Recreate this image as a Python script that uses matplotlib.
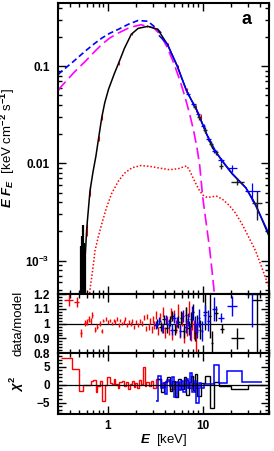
import numpy as np
import matplotlib
matplotlib.use("Agg")
import matplotlib.pyplot as plt
from matplotlib.ticker import FixedLocator, FuncFormatter, MultipleLocator, LogLocator, NullFormatter

plt.rcParams['font.family'] = ['Liberation Sans', 'DejaVu Sans']
plt.rcParams['font.weight'] = 'bold'
plt.rcParams['font.size'] = 9.5
plt.rcParams['mathtext.fontset'] = 'custom'
plt.rcParams['mathtext.rm'] = 'Liberation Sans:bold'
plt.rcParams['mathtext.it'] = 'Liberation Sans:italic:bold'
plt.rcParams['mathtext.bf'] = 'Liberation Sans:bold'

# ---- model curves (top panel) ----
e_total = [0.54, 0.565, 0.6, 0.65, 0.7, 0.75, 0.8, 0.867, 0.93, 1.02, 1.18, 1.3, 1.5, 1.77,
           2.09, 2.64, 3.35, 4.25, 5.4, 6.8, 8.7, 11.0, 12.7, 13.9, 17.0, 20.4, 28.5, 36.0,
           51.0]
f_total = [4.0e-4, 6.8e-4, 0.0021, 0.0052, 0.0082, 0.0118, 0.018, 0.030, 0.042, 0.058,
           0.085, 0.107, 0.153, 0.213, 0.245, 0.257, 0.24, 0.168, 0.10, 0.055, 0.035, 0.020,
           0.0144, 0.0129, 0.0098, 0.0078, 0.0056, 0.0038, 0.0017]

e_unabs = [0.3, 0.32, 0.45, 0.58, 0.72, 0.87, 1.05, 1.3, 1.65, 2.08, 2.64, 3.35, 3.8]
f_unabs = [0.082, 0.087, 0.115, 0.143, 0.17, 0.195, 0.218, 0.24, 0.27, 0.295, 0.29, 0.24, 0.21]

e_pl = [3.5, 4.25, 5.4, 6.8, 8.7, 11.0, 13.9, 17.0, 20.4, 28.5, 36.0, 51.0]
f_pl = [0.205, 0.168, 0.10, 0.055, 0.035, 0.020, 0.0129, 0.0099, 0.0079, 0.0056, 0.0037, 0.0018]

e_disk = [0.3, 0.32, 0.45, 0.58, 0.72, 0.87, 1.05, 1.3, 1.7, 2.24, 3.05, 3.6, 4.25, 5.0,
          5.8, 6.6, 7.3, 8.0, 8.7, 9.3, 10.0, 10.9, 11.8, 12.6, 13.3]
f_disk = [0.056, 0.061, 0.088, 0.112, 0.14, 0.168, 0.195, 0.22, 0.25, 0.267, 0.248, 0.21,
          0.155, 0.105, 0.07, 0.046, 0.032, 0.022, 0.0145, 0.0095, 0.0045, 0.0024, 0.00135,
          0.00075, 0.00045]

e_line = [0.645, 0.66, 0.7, 0.734, 0.8, 0.867, 0.97, 1.1, 1.3, 1.5, 1.8, 2.24, 2.8, 3.6,
          4.5, 5.5, 6.3, 6.8, 7.3, 7.9, 8.6, 9.3, 10.1, 10.9, 12.0, 13.9, 16.0, 19.0, 22.0,
          25.8, 30.0, 36.0, 41.0, 45.5, 51.0]
f_line = [4.6e-4, 5.6e-4, 8.5e-4, 1.26e-3, 1.8e-3, 2.4e-3, 3.5e-3, 4.9e-3, 6.6e-3, 7.9e-3,
          9.0e-3, 9.5e-3, 9.3e-3, 8.9e-3, 8.6e-3, 8.8e-3, 9.2e-3, 9.4e-3, 8.4e-3, 7.1e-3,
          6.0e-3, 5.2e-3, 4.7e-3, 4.5e-3, 4.5e-3, 4.6e-3, 4.3e-3, 3.7e-3, 3.1e-3, 2.4e-3,
          1.8e-3, 1.26e-3, 9.0e-4, 6.8e-4, 5.0e-4]

# ---- spectral data points (top panel) ----
e_red_top = [0.6, 0.65, 0.8, 0.87, 1.3, 1.8, 2.6, 4.3, 5.5, 6.9, 8.5, 9.5]
f_red_top = [0.0021, 0.0052, 0.018, 0.030, 0.107, 0.215, 0.26, 0.17, 0.098, 0.056, 0.037, 0.029]
ferr_red_top = [0.0003, 0.0006, 0.001, 0.002, 0.004, 0.006, 0.006, 0.005, 0.004, 0.003, 0.003, 0.003]

e_blk_low = [0.525, 0.54, 0.552, 0.565, 0.578]
f_blk_low = [0.0012, 0.0016, 0.0021, 0.0013, 0.0009]
flo_blk_low = [0.0011, 0.0015, 0.00205, 0.0012, 0.00085]
fhi_blk_low = [0.0002, 0.0002, 0.0002, 0.0002, 0.0002]

e_blk_top = [8.3, 9.2, 10.5, 12.2, 13.9, 15.5, 23.0, 37.0]
f_blk_top = [0.038, 0.030, 0.022, 0.016, 0.0130, 0.0095, 0.0065, 0.0039]
exl_blk_top = [0.3, 0.4, 0.5, 0.6, 0.7, 0.8, 3.0, 4.0]
exh_blk_top = [0.3, 0.4, 0.5, 0.6, 0.7, 0.8, 4.0, 5.0]
ferr_blk_top = [0.002, 0.002, 0.0015, 0.001, 0.0008, 0.0007, 0.0005, 0.0013]

e_blu_top = [7.0, 8.0, 9.0, 10.2, 11.5, 13.3, 15.6, 20.3, 33.0]
f_blu_top = [0.052, 0.041, 0.032, 0.024, 0.018, 0.0135, 0.0108, 0.0089, 0.0052]
exl_blu_top = [0.3, 0.4, 0.4, 0.5, 0.6, 0.7, 1.2, 2.3, 5.0]
exh_blu_top = [0.3, 0.4, 0.4, 0.5, 0.6, 0.7, 1.2, 2.7, 7.0]
ferr_blu_top = [0.002, 0.002, 0.0015, 0.0012, 0.001, 0.0008, 0.0006, 0.0008, 0.0011]

# ---- data/model ratio ----
e_red_lo = [0.39, 0.47, 0.52, 0.575, 0.60, 0.63, 0.66, 0.69, 0.74, 0.78, 0.82, 0.86, 0.90]
r_red_lo = [1.163, 1.145, 0.937, 1.005, 1.01, 1.03, 1.02, 1.06, 0.96, 0.98, 1.0, 0.95, 1.02]
rerr_red_lo = [0.04, 0.035, 0.03, 0.02, 0.02, 0.02, 0.02, 0.02, 0.015, 0.015, 0.015, 0.015, 0.012]
exl_red_lo = [0.04, 0.025, 0.012, 0.01, 0.01, 0.01, 0.01, 0.01, 0.01, 0.01, 0.01, 0.01, 0.01]
exh_red_lo = [0.04, 0.025, 0.012, 0.01, 0.01, 0.01, 0.01, 0.01, 0.01, 0.01, 0.01, 0.01, 0.01]

e_red_r = [0.95, 1.0, 1.05, 1.1, 1.15, 1.2, 1.25, 1.3, 1.35, 1.4, 1.47, 1.53, 1.6, 1.67,
           1.75, 1.82, 1.9, 2.0, 2.1, 2.2, 2.3, 2.4, 2.5, 2.6, 2.7, 2.8, 2.9, 3.0, 3.1,
           3.25, 3.4, 3.55, 3.7, 3.85, 4.0, 4.2, 4.4, 4.6, 4.8, 5.0, 5.25, 5.5, 5.75, 6.0,
           6.3, 6.6, 6.9, 7.2, 7.5, 7.8, 8.1, 8.5]
r_red = [1.03, 1.01, 1.02, 1.0, 1.02, 1.01, 1.03, 0.99, 1.02, 1.0, 1.01, 1.03, 0.99, 1.01,
         1.0, 1.02, 0.98, 1.01, 0.99, 1.02, 1.0, 1.04, 0.97, 1.05, 0.98, 1.02, 0.96, 1.03,
         0.99, 1.06, 0.95, 1.04, 0.97, 1.08, 0.94, 1.02, 0.96, 1.07, 0.93, 1.05, 0.98, 1.09,
         0.95, 1.03, 0.92, 1.06, 0.97, 1.10, 0.94, 1.02, 0.96, 0.90]
rerr_red = [0.012, 0.012, 0.012, 0.012, 0.012, 0.012, 0.012, 0.012, 0.012, 0.012,
            0.012, 0.012, 0.012, 0.012, 0.013, 0.013, 0.013, 0.014, 0.014, 0.015, 0.015,
            0.016, 0.017, 0.018, 0.02, 0.02, 0.022, 0.024, 0.025, 0.027, 0.028, 0.03, 0.03,
            0.032, 0.034, 0.035, 0.036, 0.038, 0.04, 0.04, 0.042, 0.044, 0.045, 0.046, 0.048,
            0.05, 0.052, 0.055, 0.057, 0.06, 0.065, 0.1]

e_blk_r = [3.3, 3.6, 3.9, 4.2, 4.5, 4.8, 5.1, 5.5, 5.9, 6.3, 6.7, 7.1, 7.5, 7.9, 8.3,
           8.8, 9.3, 10.5, 11.8, 12.5, 13.9, 16.0, 23.0, 37.0]
r_blk = [1.0, 0.98, 1.03, 0.97, 1.02, 1.05, 0.96, 1.01, 1.04, 0.95, 1.06, 0.97, 1.03, 1.08,
         0.94, 1.0, 0.96, 1.08, 1.05, 0.87, 1.07, 0.966, 0.90, 1.16]
rerr_blk = [0.03, 0.03, 0.03, 0.035, 0.035, 0.035, 0.04, 0.04, 0.045, 0.045, 0.05, 0.05,
            0.05, 0.055, 0.06, 0.06, 0.065, 0.12, 0.15, 0.08, 0.05, 0.03, 0.07, 0.40]
exl_blk_r = [0.15, 0.15, 0.15, 0.15, 0.15, 0.15, 0.2, 0.2, 0.2, 0.2, 0.2, 0.2, 0.2, 0.2,
             0.2, 0.25, 0.25, 0.5, 0.5, 0.3, 0.7, 0.8, 3.0, 4.0]
exh_blk_r = [0.15, 0.15, 0.15, 0.15, 0.15, 0.15, 0.2, 0.2, 0.2, 0.2, 0.2, 0.2, 0.2, 0.2,
             0.2, 0.25, 0.25, 0.5, 0.5, 0.3, 0.7, 0.8, 4.0, 5.0]

e_blu_r = [3.2, 3.5, 3.8, 4.1, 4.4, 4.7, 5.0, 5.4, 5.8, 6.2, 6.6, 7.0, 7.4, 7.8, 8.2,
           8.7, 9.2, 9.8, 10.5, 11.5, 13.3, 15.6, 20.3, 33.0]
r_blu = [0.99, 1.02, 0.97, 1.03, 1.0, 0.96, 1.04, 1.01, 0.95, 1.05, 0.98, 1.03, 0.94, 1.07,
         1.0, 0.96, 1.04, 0.95, 1.06, 1.02, 1.10, 1.04, 1.12, 1.20]
rerr_blu = [0.025, 0.025, 0.03, 0.03, 0.03, 0.035, 0.035, 0.035, 0.04, 0.04, 0.045, 0.045,
            0.05, 0.05, 0.055, 0.06, 0.06, 0.065, 0.07, 0.07, 0.08, 0.03, 0.07, 0.22]
exl_blu_r = [0.15, 0.15, 0.15, 0.15, 0.15, 0.15, 0.2, 0.2, 0.2, 0.2, 0.2, 0.2, 0.2, 0.2,
             0.2, 0.25, 0.25, 0.3, 0.35, 0.5, 0.7, 1.2, 2.3, 5.0]
exh_blu_r = [0.15, 0.15, 0.15, 0.15, 0.15, 0.15, 0.2, 0.2, 0.2, 0.2, 0.2, 0.2, 0.2, 0.2,
             0.2, 0.25, 0.25, 0.3, 0.35, 0.5, 0.7, 1.2, 2.7, 7.0]

# ---- chi residuals (bin edges + values) ----
edges_red = [0.32, 0.425, 0.5, 0.55, 0.66, 0.70, 0.76, 0.78, 0.82, 0.87, 0.94, 0.98, 1.06,
             1.1, 1.15, 1.2, 1.27, 1.33, 1.4, 1.47, 1.55, 1.62, 1.7, 1.78, 1.87, 1.95, 2.05,
             2.15, 2.25, 2.35, 2.45, 2.55, 2.7, 2.85, 3.0, 3.2, 3.6, 4.0, 4.5, 5.0, 5.6,
             6.3, 7.0, 7.8, 8.6, 9.2]
chi_red = [7.4, 4.5, -1.8, 0.0, 0.9, 1.3, -2.0, -0.5, 0.9, -4.7, 0.0, 2.2, 0.5, 0.3, 1.5,
           0.2, -0.8, 0.6, 1.0, -0.5, 0.8, -1.2, 0.3, 1.1, -0.6, 0.4, -1.0, 1.2, 0.1, 4.9,
           -0.5, 0.7, -0.3, 1.0, -0.8, 1.5, -0.6, 1.0, -1.2, 0.8, -0.4, 1.3, -0.9, 0.5, -1.0]

edges_blu = [3.2, 3.4, 3.6, 3.8, 4.0, 4.25, 4.5, 4.75, 5.0, 5.3, 5.6, 5.9, 6.2, 6.6, 7.0,
             7.4, 7.8, 8.2, 8.6, 9.1, 9.7, 10.4, 12.0, 13.3, 14.7, 17.9, 26.0, 42.0]
chi_blu = [-4.7, 2.5, -1.0, 0.5, -2.5, 1.2, -0.5, 2.0, -3.5, 0.8, -1.5, 1.0, -2.0, 1.5,
           -0.8, 3.3, -2.0, 1.0, -5.0, 0.5, -1.0, 0.3, 0.3, 5.6, 0.4, 3.75, 0.7]

edges_blk = [3.3, 3.6, 3.9, 4.2, 4.5, 4.8, 5.1, 5.5, 5.9, 6.3, 6.7, 7.1, 7.5, 7.9, 8.3,
             8.8, 9.5, 10.5, 11.8, 13.3, 14.7, 19.7, 30.0, 42.0]
chi_blk = [1.5, -2.0, 0.8, 2.2, -1.8, 1.0, -3.5, 1.6, -1.2, 2.0, -2.8, 0.7, 2.5, -1.5,
           3.0, -3.2, 0.5, 2.4, -6.5, 0.8, -0.3, -1.2, 0.0]

RED, BLUE, MAG = '#ff0000', '#0000ff', '#ff00ff'

fig = plt.figure(figsize=(2.74, 4.51), dpi=100)
gs = fig.add_gridspec(3, 1, height_ratios=[292, 59, 61], hspace=0,
                      left=0.212, right=0.982, top=0.994, bottom=0.082)
ax1 = fig.add_subplot(gs[0])
ax2 = fig.add_subplot(gs[1], sharex=ax1)
ax3 = fig.add_subplot(gs[2], sharex=ax1)

# top panel
ax1.plot(e_disk, f_disk, color=MAG, lw=1.2, dashes=(7, 3))
ax1.plot(e_unabs, f_unabs, color=BLUE, lw=1.2, dashes=(3.5, 2))
ax1.plot(e_line, f_line, color=RED, lw=1.1, linestyle=(0, (1, 1.3)))
ax1.errorbar(e_red_top, f_red_top, yerr=ferr_red_top, fmt='none', ecolor=RED, elinewidth=0.8)
ax1.errorbar(e_blk_low, f_blk_low, yerr=[flo_blk_low, fhi_blk_low], fmt='none',
             ecolor='k', elinewidth=1.6)
ax1.plot(e_total, f_total, color='k', lw=1.1)
ax1.plot(e_pl, f_pl, color=BLUE, lw=1.1)
ax1.errorbar(e_blk_top, f_blk_top, xerr=[exl_blk_top, exh_blk_top], yerr=ferr_blk_top,
             fmt='none', ecolor='#202020', elinewidth=1.0)
ax1.errorbar(e_blu_top, f_blu_top, xerr=[exl_blu_top, exh_blu_top], yerr=ferr_blu_top,
             fmt='none', ecolor=BLUE, elinewidth=0.9)
ax1.set_xscale('log')
ax1.set_yscale('log')
ax1.set_xlim(0.3, 50)
ax1.set_ylim(4.5e-4, 0.45)
ax1.yaxis.set_major_locator(FixedLocator([1e-3, 1e-2, 1e-1]))
ax1.yaxis.set_major_formatter(FuncFormatter(
    lambda v, p: {1e-3: r'$10^{-3}$', 1e-2: '0.01', 1e-1: '0.1'}.get(v, '')))
ax1.yaxis.set_minor_locator(LogLocator(base=10, subs=np.arange(2, 10)))
ax1.yaxis.set_minor_formatter(NullFormatter())
ax1.set_ylabel(r'$E\ F_E$  [keV cm$^{-2}$ s$^{-1}$]')
ax1.yaxis.set_label_coords(-0.195, 0.5)
ax1.text(0.895, 0.943, 'a', transform=ax1.transAxes, fontsize=13, fontweight='bold',
         ha='center', va='center')

# ratio panel
ax2.axhline(1.0, color='k', lw=0.9)
ax2.errorbar(e_red_lo, r_red_lo, xerr=[exl_red_lo, exh_red_lo], yerr=rerr_red_lo,
             fmt='none', ecolor=RED, elinewidth=1.0)
ax2.errorbar(e_red_r, r_red, yerr=rerr_red, fmt='none', ecolor=RED, elinewidth=1.0)
ax2.errorbar(e_blk_r, r_blk, xerr=[exl_blk_r, exh_blk_r], yerr=rerr_blk, fmt='none',
             ecolor='k', elinewidth=1.0)
ax2.errorbar(e_blu_r, r_blu, xerr=[exl_blu_r, exh_blu_r], yerr=rerr_blu, fmt='none',
             ecolor=BLUE, elinewidth=1.0)
ax2.set_ylim(0.8, 1.2)
ax2.yaxis.set_major_locator(FixedLocator([0.8, 0.9, 1.0, 1.1, 1.2]))
ax2.yaxis.set_major_formatter(FuncFormatter(lambda v, p: '1' if abs(v - 1) < 1e-6 else f'{v:.1f}'))
ax2.yaxis.set_minor_locator(MultipleLocator(0.02))
ax2.set_ylabel('data/model')
ax2.yaxis.set_label_coords(-0.16, 0.5)

# chi panel
ax3.axhline(0.0, color='k', lw=0.9)
ax3.stairs(chi_red, edges_red, color=RED, lw=1.0, baseline=None)
ax3.stairs(chi_blk, edges_blk, color='k', lw=1.0, baseline=None)
ax3.stairs(chi_blu, edges_blu, color=BLUE, lw=1.1, baseline=None)
ax3.set_ylim(-8.2, 8.8)
ax3.yaxis.set_major_locator(FixedLocator([-5, 0, 5]))
ax3.yaxis.set_minor_locator(MultipleLocator(1))
ax3.set_ylabel(r'$\chi^2$')
ax3.yaxis.set_label_coords(-0.15, 0.5)
ax3.set_xlabel(r'$E$  [keV]', labelpad=0)
ax3.xaxis.set_major_formatter(FuncFormatter(lambda v, p: {1: '1', 10: '10'}.get(round(v, 6), '')))
ax3.xaxis.set_minor_formatter(NullFormatter())

for ax in (ax1, ax2, ax3):
    for s in ax.spines.values():
        s.set_linewidth(1.5)
    ax.tick_params(which='both', direction='in', top=True, right=True, width=1.0)
    ax.tick_params(which='major', length=6, labelsize=8.5, pad=6)
    ax.tick_params(which='minor', length=3)
    ax.tick_params(axis='x', which='major', pad=4)
for ax in (ax1, ax2):
    plt.setp(ax.get_xticklabels(), visible=False)

fig.savefig('out.png', dpi=100)
